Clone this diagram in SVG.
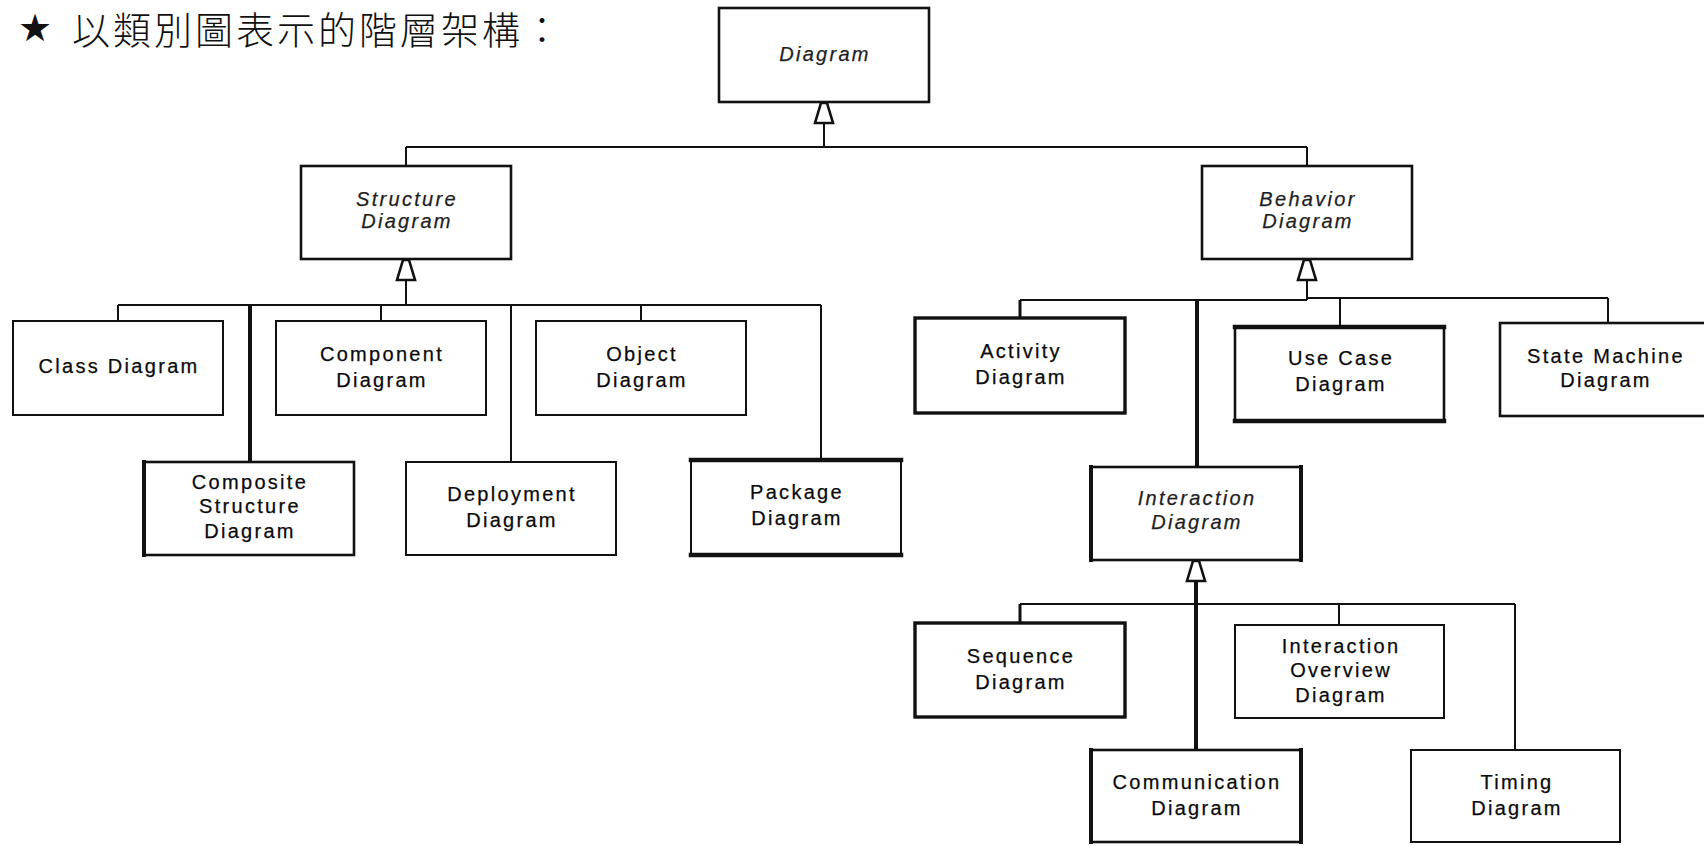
<svg xmlns="http://www.w3.org/2000/svg" xmlns:xlink="http://www.w3.org/1999/xlink" width="1704" height="846" viewBox="0 0 1704 846">
  <style>
    .box { fill: #fff; stroke: #111; stroke-width: 2; }
    .box.mid { stroke-width: 2.6; }
    .box.bold { stroke-width: 3.4; }
    .edge { fill: none; stroke: #111; stroke-width: 4.5; stroke-linecap: square; }
    .lbl { font-family: "Liberation Sans", Arial, Helvetica, sans-serif; font-size: 20px; letter-spacing: 2.3px; fill: #0a0a0a; stroke: #0a0a0a; stroke-width: 0.25px; text-anchor: middle; }
    .it { font-style: italic; fill: #1e1e1e; stroke: #1e1e1e; }
    .wire { fill: none; stroke: #111; stroke-width: 2; }
    .wire.heavy { stroke-width: 4; }
    .title { font-family: "Noto Sans CJK TC", "Noto Sans CJK SC", sans-serif; font-size: 38px; font-weight: 300; letter-spacing: 3px; fill: #111; }
    .star { font-family: "DejaVu Sans", sans-serif; font-size: 38px; fill: #111; }
  </style>
  <defs>
    <!-- hollow generalization head, tip at (0,0) -->
    <path id="gen" d="M-3,0 L3,0 L9,20 L-9,20 Z" fill="#fff" stroke="#111" stroke-width="2.6" stroke-linejoin="miter"/>
  </defs>

  <!-- heading -->
  <g id="heading">
    <text class="star" x="18" y="41">★</text>
    <text class="title" x="72" y="44">以類別圖表示的階層架構：</text>
  </g>

  <!-- connectors -->
  <g id="connectors">
    <!-- Diagram -> Structure / Behavior -->
    <path class="wire" d="M824,123 V147 M406,147 H1307 M406,147 V166 M1307,147 V166"/>
    <use xlink:href="#gen" x="824" y="103"/>

    <!-- Structure Diagram children -->
    <path class="wire" d="M406,280 V305 M118,305 H821 M118,305 V321 M381,305 V321 M511,305 V462 M641,305 V321 M821,305 V460"/>
    <path class="wire heavy" d="M250,305 V462"/>
    <use xlink:href="#gen" x="406" y="260"/>

    <!-- Behavior Diagram children -->
    <path class="wire" d="M1307,280 V300 M1020,300 H1307 M1307,298 H1608 M1340,298 V327 M1608,298 V323"/>
    <path class="wire" style="stroke-width:3" d="M1020,300 V318"/>
    <path class="wire heavy" d="M1197,300 V467"/>
    <use xlink:href="#gen" x="1307" y="260"/>

    <!-- Interaction Diagram children -->
    <path class="wire" d="M1020,604 H1515 M1339,604 V625 M1515,604 V750"/>
    <path class="wire" style="stroke-width:3" d="M1020,604 V623"/>
    <path class="wire heavy" d="M1196,580 V750"/>
    <use xlink:href="#gen" x="1196" y="561"/>
  </g>

  <!-- abstract diagrams -->
  <g id="diagram">
    <rect class="box mid" x="719" y="8" width="210" height="94"/>
    <text class="lbl it" x="825" y="61">Diagram</text>
  </g>
  <g id="structure-diagram">
    <rect class="box mid" x="301" y="166" width="210" height="93"/>
    <text class="lbl it" x="407" y="206">Structure</text>
    <text class="lbl it" x="407" y="228">Diagram</text>
  </g>
  <g id="behavior-diagram">
    <rect class="box mid" x="1202" y="166" width="210" height="93"/>
    <text class="lbl it" x="1308" y="206">Behavior</text>
    <text class="lbl it" x="1308" y="228">Diagram</text>
  </g>

  <!-- structure diagrams -->
  <g id="class-diagram">
    <rect class="box" x="13" y="321" width="210" height="94"/>
    <text class="lbl" x="119" y="373">Class Diagram</text>
  </g>
  <g id="component-diagram">
    <rect class="box" x="276" y="321" width="210" height="94"/>
    <text class="lbl" x="382" y="361">Component</text>
    <text class="lbl" x="382" y="387">Diagram</text>
  </g>
  <g id="object-diagram">
    <rect class="box" x="536" y="321" width="210" height="94"/>
    <text class="lbl" x="642" y="361">Object</text>
    <text class="lbl" x="642" y="387">Diagram</text>
  </g>
  <g id="composite-structure-diagram">
    <rect class="box mid" x="144" y="462" width="210" height="93"/>
    <path class="edge" style="stroke-width:4" d="M144,462 V555"/>
    <text class="lbl" x="250" y="489">Composite</text>
    <text class="lbl" x="250" y="513">Structure</text>
    <text class="lbl" x="250" y="538">Diagram</text>
  </g>
  <g id="deployment-diagram">
    <rect class="box" x="406" y="462" width="210" height="93"/>
    <text class="lbl" x="512" y="501">Deployment</text>
    <text class="lbl" x="512" y="527">Diagram</text>
  </g>
  <g id="package-diagram">
    <rect class="box" x="691" y="460" width="210" height="95"/>
    <path class="edge" d="M691,460 H901 M691,555 H901"/>
    <text class="lbl" x="797" y="499">Package</text>
    <text class="lbl" x="797" y="525">Diagram</text>
  </g>

  <!-- behavior diagrams -->
  <g id="activity-diagram">
    <rect class="box bold" x="915" y="318" width="210" height="95"/>
    <text class="lbl" x="1021" y="358">Activity</text>
    <text class="lbl" x="1021" y="384">Diagram</text>
  </g>
  <g id="use-case-diagram">
    <rect class="box mid" x="1235" y="327" width="209" height="94"/>
    <path class="edge" d="M1235,327 H1444 M1235,421 H1444"/>
    <text class="lbl" x="1341" y="365">Use Case</text>
    <text class="lbl" x="1341" y="391">Diagram</text>
  </g>
  <g id="state-machine-diagram">
    <rect class="box mid" x="1500" y="323" width="215" height="93"/>
    <text class="lbl" x="1606" y="363">State Machine</text>
    <text class="lbl" x="1606" y="387">Diagram</text>
  </g>
  <g id="interaction-diagram">
    <rect class="box mid" x="1091" y="467" width="210" height="93"/>
    <path class="edge" style="stroke-width:4" d="M1091,467 V560 M1301,467 V560"/>
    <text class="lbl it" x="1197" y="505">Interaction</text>
    <text class="lbl it" x="1197" y="529">Diagram</text>
  </g>

  <!-- interaction diagrams -->
  <g id="sequence-diagram">
    <rect class="box bold" x="915" y="623" width="210" height="94"/>
    <text class="lbl" x="1021" y="663">Sequence</text>
    <text class="lbl" x="1021" y="689">Diagram</text>
  </g>
  <g id="interaction-overview-diagram">
    <rect class="box" x="1235" y="625" width="209" height="93"/>
    <text class="lbl" x="1341" y="653">Interaction</text>
    <text class="lbl" x="1341" y="677">Overview</text>
    <text class="lbl" x="1341" y="702">Diagram</text>
  </g>
  <g id="communication-diagram">
    <rect class="box mid" x="1091" y="750" width="210" height="92"/>
    <path class="edge" style="stroke-width:4" d="M1091,750 V842 M1301,750 V842"/>
    <text class="lbl" x="1197" y="789">Communication</text>
    <text class="lbl" x="1197" y="815">Diagram</text>
  </g>
  <g id="timing-diagram">
    <rect class="box" x="1411" y="750" width="209" height="92"/>
    <text class="lbl" x="1517" y="789">Timing</text>
    <text class="lbl" x="1517" y="815">Diagram</text>
  </g>
</svg>
